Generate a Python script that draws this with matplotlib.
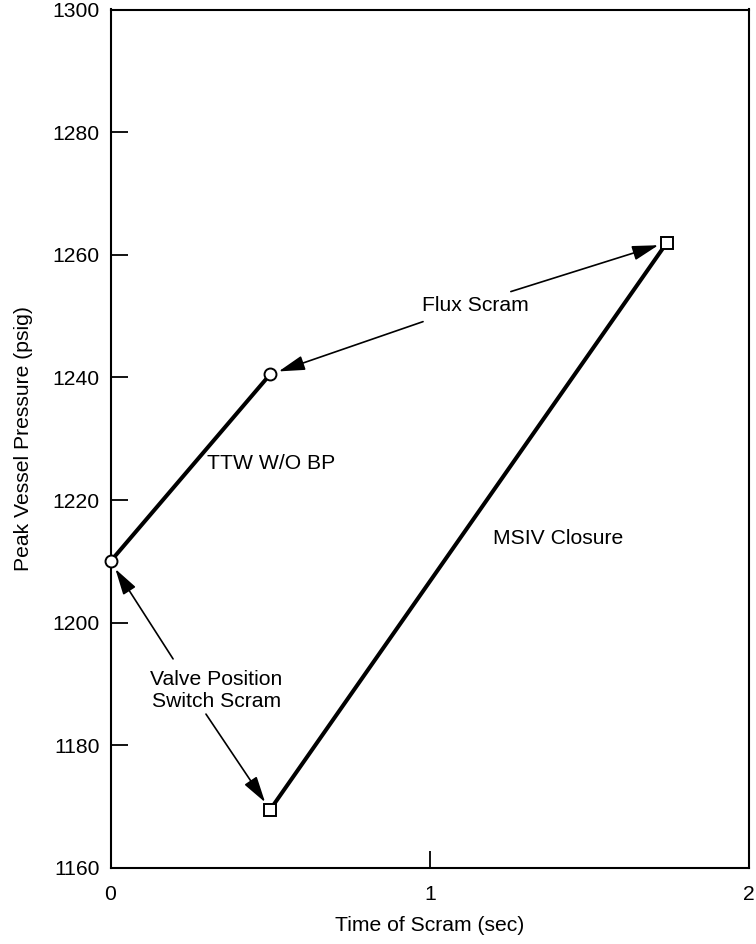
import matplotlib
matplotlib.use("Agg")
import matplotlib.pyplot as plt

plt.rcParams['font.family'] = ['Liberation Sans', 'DejaVu Sans']

# Data
ttw_time = [0.0, 0.5]
ttw_pressure = [1210, 1240.5]
msiv_time = [0.5, 1.743]
msiv_pressure = [1169.5, 1262]

x_ticks = [0, 1, 2]
y_ticks = [1160, 1180, 1200, 1220, 1240, 1260, 1280, 1300]

fig = plt.figure(figsize=(7.56, 9.44), dpi=100)
ax = fig.add_axes([110.5/756, 1 - 868/944, (749-110.5)/756, (868-9.5)/944])

ax.plot(ttw_time, ttw_pressure, color='black', lw=2.9, zorder=3, solid_capstyle='butt')
ax.plot(msiv_time, msiv_pressure, color='black', lw=2.9, zorder=3, solid_capstyle='butt')
ax.plot(ttw_time, ttw_pressure, 'o', ms=8.6, mfc='white', mec='black', mew=1.4, zorder=4, clip_on=False)
ax.plot(msiv_time, msiv_pressure, 's', ms=8.4, mfc='white', mec='black', mew=1.4, zorder=4, clip_on=False)

fs = 15.2
ax.set_xlim(0, 2)
ax.set_ylim(1160, 1300)
ax.set_xticks(x_ticks)
ax.set_yticks(y_ticks)
ax.tick_params(direction='in', length=12.5, width=1.3, labelsize=fs)
ax.tick_params(axis='x', pad=12)
ax.tick_params(axis='y', pad=8)
for s in ax.spines.values():
    s.set_linewidth(1.5)

ax.set_xlabel('Time of Scram (sec)', fontsize=fs, labelpad=9)
ax.set_ylabel('Peak Vessel Pressure (psig)', fontsize=fs, labelpad=14)

arrow = dict(arrowstyle='-|>,head_length=1.6,head_width=0.45', color='black', lw=1.2, shrinkA=0, shrinkB=6.5)

ax.text(1.142, 1251.8, 'Flux Scram', ha='center', va='center', fontsize=fs)
ax.annotate('', xy=(ttw_time[1], ttw_pressure[1]), xytext=(0.979, 1249.1), arrowprops=arrow)
ax.annotate('', xy=(msiv_time[1], msiv_pressure[1]), xytext=(1.254, 1254.0), arrowprops=arrow)

ax.text(0.332, 1188.9, 'Valve Position\nSwitch Scram', ha='center', va='center', fontsize=fs, linespacing=1.2)
ax.annotate('', xy=(ttw_time[0], ttw_pressure[0]), xytext=(0.196, 1194.1), arrowprops=arrow)
ax.annotate('', xy=(msiv_time[0], msiv_pressure[0]), xytext=(0.299, 1185.1), arrowprops=arrow)

ax.text(0.503, 1226.0, 'TTW W/O BP', ha='center', va='center', fontsize=fs)
ax.text(1.402, 1213.7, 'MSIV Closure', ha='center', va='center', fontsize=fs)

fig.canvas.draw()
for t in ax.xaxis.get_major_ticks():
    if t.get_loc() in (x_ticks[0], x_ticks[-1]):
        t.tick1line.set_visible(False)
for t in ax.yaxis.get_major_ticks():
    if t.get_loc() in (y_ticks[0], y_ticks[-1]):
        t.tick1line.set_visible(False)

fig.savefig('out.png', dpi=100)
